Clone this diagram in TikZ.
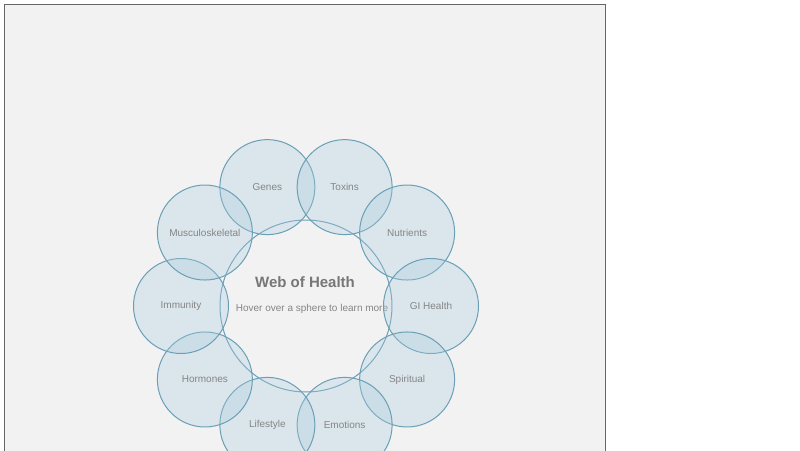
\documentclass[tikz,border=0pt]{standalone}
\usepackage{fontspec}
\setmainfont{Liberation Sans}
\usepackage{xcolor}
\usepackage{tikz}
\usetikzlibrary{positioning}

\definecolor{panelfill}{HTML}{F2F2F2}
\definecolor{panelline}{HTML}{666666}
\definecolor{spherefill}{HTML}{A9CDE0}
\definecolor{sphereline}{HTML}{6A9FB5}
\definecolor{labelgray}{HTML}{858585}
\definecolor{titlegray}{HTML}{777777}

\begin{document}
\begin{tikzpicture}[
  x=1pt, y=1pt,
  sphere/.style={circle, draw=sphereline, line width=1pt, fill=spherefill, fill opacity=0.3, text opacity=1,
    minimum size=95pt, inner sep=0pt, text=labelgray, font=\fontsize{10}{12}\selectfont},
  hub/.style={circle, draw=sphereline, line width=1pt, minimum size=172pt, inner sep=0pt},
  heading/.style={text=titlegray, font=\fontsize{15}{18}\selectfont\bfseries},
  hint/.style={text=labelgray, font=\fontsize{10}{12}\selectfont}
]
\useasboundingbox (-306,-144) rectangle (494,306);
\clip (-306,-144) rectangle (494,306);
\draw[panelline, fill=panelfill, line width=1pt] (-301,301) rectangle (299,-160);

\node[hub] (hub) at (0,0) {};
\node[heading] (title) at (-1,24) {Web of Health};
\node[hint] (hint) at (6,-3) {Hover over a sphere to learn more};

\node[sphere] (genes) at (108:125) {Genes};
\node[sphere] (toxins) at (72:125) {Toxins};
\node[sphere] (nutrients) at (36:125) {Nutrients};
\node[sphere] (gihealth) at (0:125) {GI Health};
\node[sphere] (spiritual) at (-36:125) {Spiritual};
\node[sphere] (emotions) at (-72:125) {Emotions};
\node[sphere] (lifestyle) at (-108:125) {Lifestyle};
\node[sphere] (hormones) at (-144:125) {Hormones};
\node[sphere] (immunity) at (180:125) {Immunity};
\node[sphere] (musculo) at (144:125) {Musculoskeletal};
\end{tikzpicture}
\end{document}
